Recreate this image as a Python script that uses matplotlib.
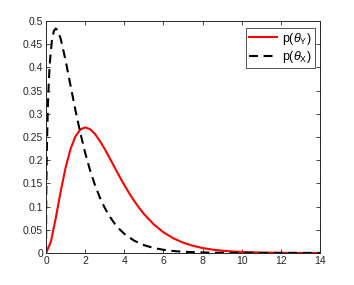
import matplotlib
matplotlib.use("Agg")
import matplotlib.pyplot as plt

plt.rcParams['font.family'] = ['Liberation Sans', 'DejaVu Sans']
plt.rcParams['mathtext.fontset'] = 'custom'
plt.rcParams['mathtext.rm'] = 'Liberation Sans'
plt.rcParams['mathtext.it'] = 'Liberation Sans:italic'

# p(theta_Y)
x_y = [0, 0.25, 0.5, 0.75, 1, 1.25, 1.5, 1.75, 2, 2.25, 2.5, 2.75, 3, 3.25, 3.5,
       3.75, 4, 4.25, 4.5, 4.75, 5, 5.5, 6, 6.5, 7, 7.5, 8, 8.5, 9, 9.5, 10,
       11, 12, 13, 14]
p_y = [0, 0.0243, 0.0758, 0.1329, 0.1839, 0.2238, 0.2510, 0.2661, 0.2707, 0.2668,
       0.2565, 0.2416, 0.2240, 0.2049, 0.1850, 0.1652, 0.1465, 0.1288, 0.1125,
       0.0976, 0.0842, 0.0619, 0.0446, 0.0318, 0.0223, 0.0156, 0.0107, 0.0073,
       0.0050, 0.0034, 0.0023, 0.0010, 0.0004, 0.0002, 0.0001]

# p(theta_X)
x_x = [0, 0.01, 0.03, 0.05, 0.1, 0.15, 0.2, 0.3, 0.4, 0.5, 0.6, 0.75, 1, 1.25,
       1.5, 1.75, 2, 2.25, 2.5, 2.75, 3, 3.25, 3.5, 3.75, 4, 4.5, 5, 5.5, 6,
       6.5, 7, 8, 9, 10, 12, 14]
p_x = [0, 0.1117, 0.1897, 0.2400, 0.3229, 0.3761, 0.4131, 0.4578, 0.4784, 0.4839,
       0.4797, 0.4616, 0.4151, 0.3615, 0.3083, 0.2594, 0.2159, 0.1784, 0.1465,
       0.1196, 0.0973, 0.0789, 0.0638, 0.0514, 0.0413, 0.0266, 0.0170, 0.0108,
       0.0069, 0.0043, 0.0027, 0.0011, 0.0004, 0.0002, 0.00003, 0.000004]

labels = [r'p($\theta_{\mathrm{Y}}$)', r'p($\theta_{\mathrm{X}}$)']
xticks = [0, 2, 4, 6, 8, 10, 12, 14]
yticks = [0, 0.05, 0.1, 0.15, 0.2, 0.25, 0.3, 0.35, 0.4, 0.45, 0.5]
ytick_labels = ['0', '0.05', '0.1', '0.15', '0.2', '0.25', '0.3', '0.35', '0.4', '0.45', '0.5']

fig = plt.figure(figsize=(3.54, 2.85), dpi=100)
ax = fig.add_axes([0.130, 0.1123, 0.774, 0.814])
dark = '#262626'
ax.plot(x_y, p_y, color='#ff0000', lw=1.5, label=labels[0])
ax.plot(x_x, p_x, color='black', lw=1.5, ls=(0, (4.3, 2.7)), label=labels[1])
ax.set_xlim(0, 14)
ax.set_ylim(0, 0.5)
ax.set_xticks(xticks)
ax.set_yticks(yticks)
ax.set_yticklabels(ytick_labels)
ax.tick_params(direction='in', top=True, right=True, labelsize=7.5, colors=dark,
               length=3, width=0.6, pad=2)
for s in ax.spines.values():
    s.set_color(dark)
    s.set_linewidth(0.7)
leg = ax.legend(loc='upper right', bbox_to_anchor=(0.98, 0.972), borderaxespad=0,
                fontsize=9, frameon=True, fancybox=False, handlelength=2.2,
                handletextpad=0.4, borderpad=0.25, labelspacing=0.2)
leg.get_frame().set_edgecolor(dark)
leg.get_frame().set_linewidth(0.7)
fig.savefig('out.png', dpi=100)
